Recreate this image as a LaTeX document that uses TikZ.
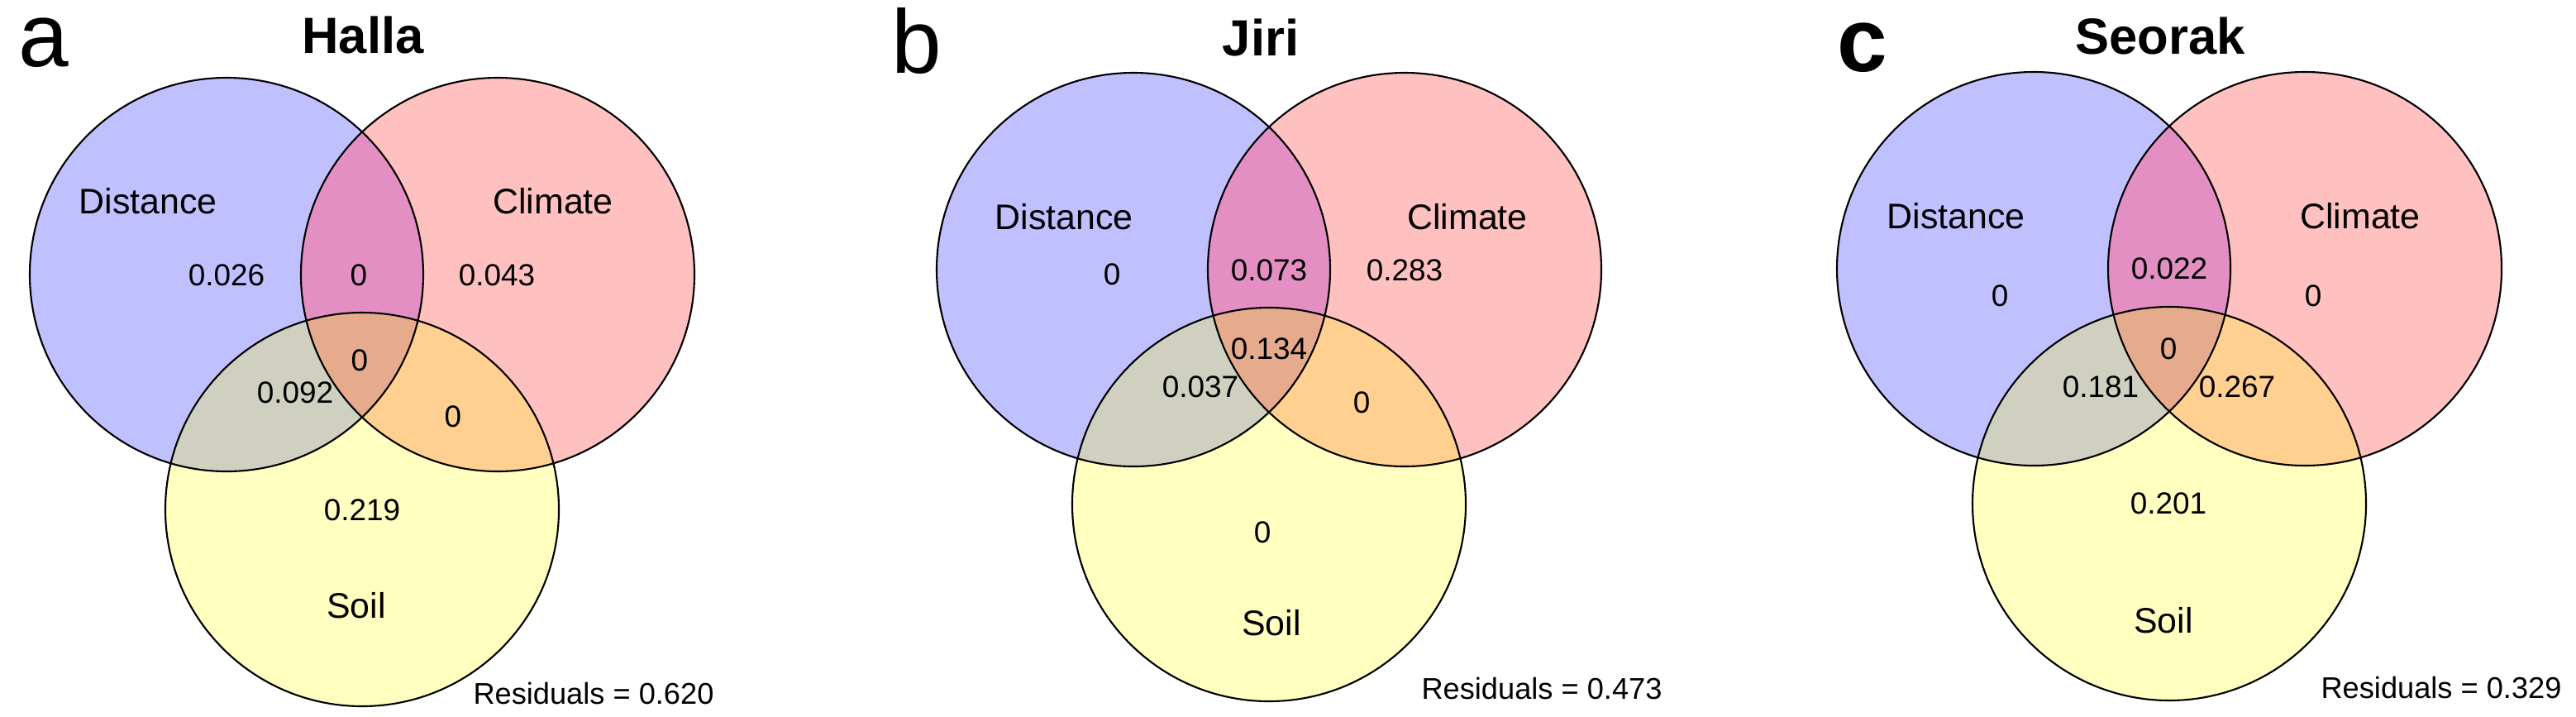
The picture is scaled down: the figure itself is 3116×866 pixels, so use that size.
\documentclass[tikz,border=0pt]{standalone}
\usepackage{fontspec}
\setmainfont{Liberation Sans}
\definecolor{cD}{RGB}{192,192,255}
\definecolor{cC}{RGB}{255,192,192}
\definecolor{cS}{RGB}{255,255,192}
\definecolor{cDC}{RGB}{228,143,196}
\definecolor{cDS}{RGB}{208,208,192}
\definecolor{cCS}{RGB}{255,208,144}
\definecolor{cDCS}{RGB}{230,170,140}
\tikzset{
  lab/.style={font=\fontsize{12.2}{14}\selectfont, inner sep=0pt},
  num/.style={font=\fontsize{10.5}{12}\selectfont, inner sep=0pt},
  ttl/.style={font=\fontsize{17.5}{20}\selectfont\bfseries, inner sep=0pt},
  letter/.style={font=\fontsize{31}{34}\selectfont, inner sep=0pt},
  res/.style={font=\fontsize{10.3}{12}\selectfont, inner sep=0pt},
  ring/.style={draw=black, line width=0.6pt}
}
\newcommand{\venn}[3]{%
  % #1 = prefix, #2 = x0, #3 = y0
  \coordinate (#1D) at (#2,#3);
  \coordinate (#1C) at (#2+328,#3);
  \coordinate (#1S) at (#2+164,#3+284);
  \fill[cD] (#1D) circle[radius=238];
  \fill[cC] (#1C) circle[radius=238];
  \fill[cS] (#1S) circle[radius=238];
  \begin{scope}\clip (#1D) circle[radius=238];
    \fill[cDC] (#1C) circle[radius=238];
    \fill[cDS] (#1S) circle[radius=238];
  \end{scope}
  \begin{scope}\clip (#1C) circle[radius=238];
    \fill[cCS] (#1S) circle[radius=238];
  \end{scope}
  \begin{scope}\clip (#1D) circle[radius=238];\clip (#1C) circle[radius=238];
    \fill[cDCS] (#1S) circle[radius=238];
  \end{scope}
  \draw[ring] (#1D) circle[radius=238];
  \draw[ring] (#1C) circle[radius=238];
  \draw[ring] (#1S) circle[radius=238];
}
\begin{document}
\begin{tikzpicture}[x=0.01cm,y=-0.01cm]
\useasboundingbox (0,0) rectangle (3116,866);
\fill[white] (0,0) rectangle (3116,866);

% Panel a
\venn{a}{274}{332}
\node[letter] (la) at (53,52) {a};
\node[ttl] (ta) at (439,42) {Halla};
\node[lab] (aDl) at (179,243) {Distance};
\node[lab] (aCl) at (669,243) {Climate};
\node[lab] (aSl) at (431,732) {Soil};
\node[num] (a1) at (274,333) {0.026};
\node[num] (a2) at (434,333) {0};
\node[num] (a3) at (601,333) {0.043};
\node[num] (a4) at (435,436) {0};
\node[num] (a5) at (357,475) {0.092};
\node[num] (a6) at (548,504) {0};
\node[num] (a7) at (438,617) {0.219};
\node[res] (ar) at (718,839) {Residuals = 0.620};

% Panel b
\venn{b}{1371}{326}
\node[letter] (lb) at (1109,50) {b};
\node[ttl] (tb) at (1525,45) {Jiri};
\node[lab] (bDl) at (1287,262) {Distance};
\node[lab] (bCl) at (1775,262) {Climate};
\node[lab] (bSl) at (1538,753) {Soil};
\node[num] (b1) at (1345,332) {0};
\node[num] (b2) at (1535,327) {0.073};
\node[num] (b3) at (1699,327) {0.283};
\node[num] (b4) at (1535,422) {0.134};
\node[num] (b5) at (1452,468) {0.037};
\node[num] (b6) at (1647,487) {0};
\node[num] (b7) at (1527,644) {0};
\node[res] (br) at (1865,833) {Residuals = 0.473};

% Panel c
\venn{c}{2460}{325}
\node[letter, font=\fontsize{31}{34}\selectfont\bfseries] (lc) at (2253,58) {c};
\node[ttl] (tc) at (2613,43) {Seorak};
\node[lab] (cDl) at (2366,261) {Distance};
\node[lab] (cCl) at (2855,261) {Climate};
\node[lab] (cSl) at (2617,750) {Soil};
\node[num] (c1) at (2419,358) {0};
\node[num] (c2) at (2624,325) {0.022};
\node[num] (c3) at (2798,358) {0};
\node[num] (c4) at (2623,422) {0};
\node[num] (c5) at (2541,468) {0.181};
\node[num] (c6) at (2706,468) {0.267};
\node[num] (c7) at (2623,609) {0.201};
\node[res] (cr) at (2953,832) {Residuals = 0.329};
\end{tikzpicture}
\end{document}
